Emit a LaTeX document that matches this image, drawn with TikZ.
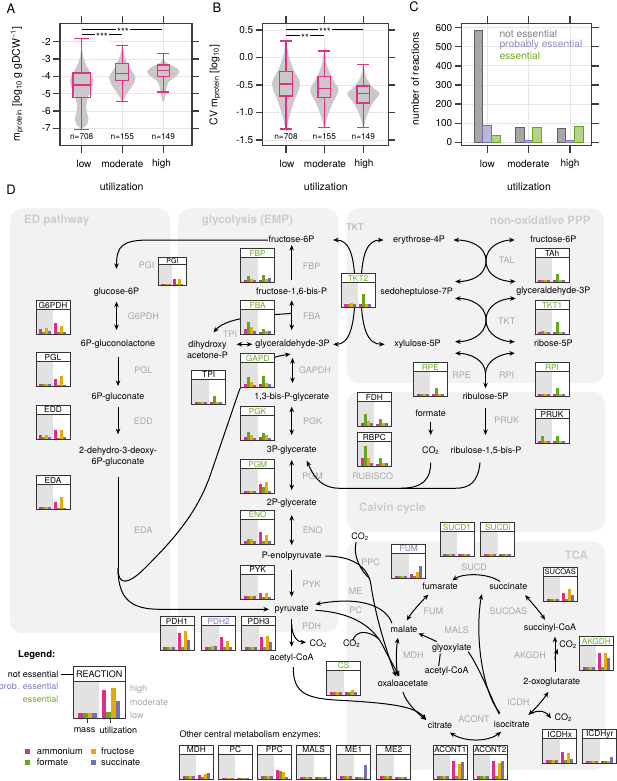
\documentclass[tikz,border=0pt]{standalone}
\usepackage{fontspec}
\setmainfont{TeX Gyre Heros}
\usetikzlibrary{arrows.meta,calc}
\definecolor{amm}{HTML}{E7298A}
\definecolor{frm}{HTML}{66A61E}
\definecolor{fru}{HTML}{E6AB02}
\definecolor{sucp}{HTML}{7570B3}
\colorlet{bar1}{amm}\colorlet{bar2}{frm}\colorlet{bar3}{fru}\colorlet{bar4}{sucp}
\definecolor{essg}{HTML}{6EAA2A}
\definecolor{probp}{HTML}{7F7BC0}
\definecolor{framec}{HTML}{3C3C3C}
\definecolor{gridc}{HTML}{E6E6E6}
\definecolor{violc}{HTML}{C9C9C9}
\definecolor{boxc}{HTML}{E0308A}
\definecolor{regc}{HTML}{F2F2F2}
\definecolor{rtc}{HTML}{CDCDCD}
\definecolor{labc}{HTML}{A8A8A8}
\definecolor{massc}{HTML}{E2E2E2}
\definecolor{boxl}{HTML}{333333}
\definecolor{negrey}{HTML}{808080}
\newcommand{\fsz}[1]{\fontsize{#1}{#1}\selectfont}
\newcommand{\enzbox}[8][1]{%
 \begin{scope}[shift={(#3,#4)}, scale=#1]
  \fill[white] (0,0) rectangle (34,34);
  \fill[massc] (0,9) rectangle (17,34);
  \foreach \h [count=\i] in {#7} {\fill[bar\i] ({0.3+3*\i},33.6) rectangle ++(3,{-\h});}
  \foreach \h [count=\i] in {#8} {\fill[bar\i] ({15.3+3*\i},33.6) rectangle ++(3,{-\h});}
  \draw[boxl, line width=0.8pt] (0,0) rectangle (34,34) (0,9) -- (34,9);
  \node[inner sep=0, font=\fsz{8.3}, text=#6, transform shape] (#2) at (17,4.9) {#5};
 \end{scope}}
\newcommand{\vcon}[5]{\draw[#1] ($(#2.center)+(0,#4)$) -- ($(#2.center |- #3.center)+(0,#5)$);}
\tikzset{
 frame/.style={draw=framec, line width=1.3pt},
 gridl/.style={draw=gridc, line width=0.8pt},
 bx/.style={draw=boxc, line width=1.3pt},
 ticklab/.style={font=\fsz{10}, inner sep=1pt},
 nlab/.style={font=\fsz{8.3}, inner sep=0},
 plab/.style={font=\fsz{13}, inner sep=0},
 axlab/.style={font=\fsz{10.5}, inner sep=0},
 sigt/.style={font=\fsz{10}, inner sep=1pt, fill=white},
 met/.style={font=\fsz{9}, inner sep=0.5pt, text height=6.5pt, text depth=1.8pt},
 met2/.style={font=\fontsize{9}{11}\selectfont, inner sep=0.5pt, align=center},
 elab/.style={font=\fsz{9}, text=labc, inner sep=0},
 rtitle/.style={font=\bfseries\fsz{11.5}, text=rtc, inner sep=0},
 arr/.style={line width=1pt, -{Stealth[length=5.5pt,width=4.6pt]}},
 dbl/.style={line width=1pt, {Stealth[length=5.5pt,width=4.6pt]}-{Stealth[length=5.5pt,width=4.6pt]}},
 plain/.style={line width=1pt},
 reg/.style={fill=regc, rounded corners=12pt},
}
\begin{document}
\begin{tikzpicture}[x=1pt,y=-1pt]
\path[use as bounding box, fill=white] (0,0) rectangle (617,781);

%================ Panel A
\node[plab] (labA) at (11,9) {A};
\foreach \yy in {41.7,59,76.3,93.7,111,128.3} \draw[gridl] (60,\yy) -- (192,\yy);
\foreach \xx in {81.7,122.3,163.3} \draw[gridl] (\xx,23.5) -- (\xx,145.5);
\begin{scope}[y=17.33pt, shift={(0pt,-7.04pt)}]
 \fill[violc] plot[smooth cycle, tension=0.6] coordinates {(81.7,-2.4) (83.5,-2.9) (86.5,-3.4) (91,-3.85) (93.5,-4.25) (91.5,-4.7) (88,-5.2) (86.3,-5.7) (87,-6.1) (88.5,-6.45) (86.5,-6.8) (81.7,-7.0) (76.9,-6.8) (74.9,-6.45) (76.4,-6.1) (77.1,-5.7) (75.4,-5.2) (71.9,-4.7) (69.9,-4.25) (72.4,-3.85) (76.9,-3.4) (79.9,-2.9)};
 \fill[violc] plot[smooth cycle, tension=0.6] coordinates {(122.3,-2.25) (124,-2.7) (127,-3.2) (132,-3.7) (135.5,-4.05) (133,-4.5) (127.5,-4.95) (124,-5.3) (122.3,-5.5) (120.6,-5.3) (117.1,-4.95) (111.6,-4.5) (109.1,-4.05) (112.6,-3.7) (117.6,-3.2) (120.6,-2.7)};
 \fill[violc] plot[smooth cycle, tension=0.6] coordinates {(163.3,-2.95) (166,-3.2) (173,-3.4) (179.5,-3.7) (176,-4.0) (169,-4.3) (166.5,-4.7) (165.5,-5.1) (163.3,-5.5) (161.1,-5.1) (160.1,-4.7) (157.6,-4.3) (150.6,-4.0) (147.1,-3.7) (153.6,-3.4) (160.6,-3.2)};
 % low
 \draw[bx] (72.9,-3.8) rectangle (90.5,-5.2) (72.9,-4.5) -- (90.5,-4.5);
 \draw[bx] (81.7,-3.8) -- (81.7,-1.8) (74.2,-1.8) -- (89.2,-1.8) (81.7,-5.2) -- (81.7,-7.05) (74.2,-7.05) -- (89.2,-7.05);
 % moderate
 \draw[bx] (115.8,-3.25) rectangle (128.8,-4.25) (115.8,-3.85) -- (128.8,-3.85);
 \draw[bx] (122.3,-3.25) -- (122.3,-2.2) (116.3,-2.2) -- (128.3,-2.2) (122.3,-4.25) -- (122.3,-5.45) (116.3,-5.45) -- (128.3,-5.45);
 % high
 \draw[bx] (157.3,-3.35) rectangle (169.3,-4.0) (157.3,-3.65) -- (169.3,-3.65);
 \draw[bx] (163.3,-3.35) -- (163.3,-2.7) (157.3,-2.7) -- (169.3,-2.7) (163.3,-4.0) -- (163.3,-4.9) (157.3,-4.9) -- (169.3,-4.9);
\end{scope}
\draw[line width=0.7pt] (81.7,29) -- (161.7,29);
\node[sigt] (sA1) at (123,31.5) {***};
\draw[line width=0.7pt] (81.7,34.5) -- (122.3,34.5);
\node[sigt] (sA2) at (102,37) {***};
\node[nlab] (nA1) at (81.7,136.7) {n=708};
\node[nlab] (nA2) at (122.3,136.7) {n=155};
\node[nlab] (nA3) at (163.3,136.7) {n=149};
\draw[frame] (60,23.5) rectangle (192,145.5);
\foreach \yy/\lab in {41.7/-2,59/-3,76.3/-4,93.7/-5,111/-6,128.3/-7} {
 \draw[frame] (60,\yy) -- (53,\yy) (192,\yy) -- (199,\yy);
 \node[ticklab, anchor=east] at (52,\yy) {\lab};}
\foreach \xx in {81.7,122.3,163.3} \draw[frame] (\xx,23.5) -- (\xx,16.5) (\xx,145.5) -- (\xx,152.5);
\node[ticklab] at (84,163.5) {low};
\node[ticklab] at (122.3,163.5) {moderate};
\node[ticklab] at (161.5,163.5) {high};
\node[axlab] at (121.7,187) {utilization};
\node[axlab, rotate=90] at (17,84) {m\textsubscript{protein} [log\textsubscript{10} g gDCW\textsuperscript{\textminus1}]};

%================ Panel B
\node[plab] (labB) at (217,8) {B};
\foreach \yy in {30,57.5,85,112.5,140} \draw[gridl] (262.7,\yy) -- (388.3,\yy);
\foreach \xx in {286,324.3,363.3} \draw[gridl] (\xx,23.5) -- (\xx,145.5);
\begin{scope}[y=55pt, shift={(0pt,-57.5pt)}]
 \fill[violc] plot[smooth cycle, tension=0.6] coordinates {(286,0.28) (288.5,0.05) (293,-0.2) (300,-0.48) (294,-0.8) (289,-1.1) (286,-1.3) (283,-1.1) (278,-0.8) (272,-0.48) (279,-0.2) (283.5,0.05)};
 \fill[violc] plot[smooth cycle, tension=0.6] coordinates {(324.3,0.12) (327,-0.15) (333,-0.4) (338.3,-0.6) (332,-0.85) (327,-1.1) (324.3,-1.27) (321.6,-1.1) (316.6,-0.85) (310.3,-0.6) (315.6,-0.4) (321.6,-0.15)};
 \fill[violc] plot[smooth cycle, tension=0.6] coordinates {(363.3,-0.12) (366,-0.35) (373,-0.55) (379.3,-0.66) (372,-0.85) (366,-1.1) (363.3,-1.27) (360.6,-1.1) (354.6,-0.85) (347.3,-0.66) (353.6,-0.55) (360.6,-0.35)};
 \draw[bx] (279.8,-0.25) rectangle (292.2,-0.7) (279.8,-0.48) -- (292.2,-0.48);
 \draw[bx] (286,-0.25) -- (286,0.3) (280,0.3) -- (292,0.3) (286,-0.7) -- (286,-1.3) (280,-1.3) -- (292,-1.3);
 \draw[bx] (318.1,-0.35) rectangle (330.5,-0.73) (318.1,-0.57) -- (330.5,-0.57);
 \draw[bx] (324.3,-0.35) -- (324.3,0.12) (318.3,0.12) -- (330.3,0.12) (324.3,-0.73) -- (324.3,-1.27) (318.3,-1.27) -- (330.3,-1.27);
 \draw[bx] (357.1,-0.52) rectangle (369.5,-0.83) (357.1,-0.65) -- (369.5,-0.65);
 \draw[bx] (363.3,-0.52) -- (363.3,-0.13) (357.3,-0.13) -- (369.3,-0.13) (363.3,-0.83) -- (363.3,-1.27) (357.3,-1.27) -- (369.3,-1.27);
\end{scope}
\draw[line width=0.7pt] (286,29.3) -- (363.3,29.3);
\node[sigt] (sB1) at (325,31.8) {***};
\draw[line width=0.7pt] (286,35.3) -- (324.3,35.3);
\node[sigt] (sB2) at (305,37.8) {**};
\node[nlab] (nB1) at (286,136.7) {n=708};
\node[nlab] (nB2) at (324.3,136.7) {n=155};
\node[nlab] (nB3) at (363.3,136.7) {n=149};
\draw[frame] (262.7,23.5) rectangle (388.3,145.5);
\foreach \yy/\lab in {30/0.5,57.5/0.0,85/-0.5,112.5/-1.0,140/-1.5} {
 \draw[frame] (262.7,\yy) -- (255.7,\yy) (388.3,\yy) -- (395.3,\yy);
 \node[ticklab, anchor=east] at (254.5,\yy) {\lab};}
\foreach \xx in {286,324.3,363.3} \draw[frame] (\xx,23.5) -- (\xx,16.5) (\xx,145.5) -- (\xx,152.5);
\node[ticklab] at (287,164) {low};
\node[ticklab] at (325,164) {moderate};
\node[ticklab] at (364,164) {high};
\node[axlab] at (325.8,187) {utilization};
\node[axlab, rotate=90] at (215,85) {CV m\textsubscript{protein} [log\textsubscript{10}]};

%================ Panel C
\node[plab] (labC) at (414,7) {C};
\foreach \yy in {142.3,123.2,104.1,85,65.9,46.8,27.7} \draw[gridl] (461.7,\yy) -- (591.7,\yy);
\foreach \xx in {487.3,528.3,570} \draw[gridl] (\xx,23.5) -- (\xx,145.5);
\tikzset{gbar/.style={fill=black!35, draw=black!62, line width=0.9pt}, pbar/.style={fill=sucp!50, draw=sucp, line width=0.9pt}, ebar/.style={fill=frm!50, draw=frm, line width=0.9pt}}
\draw[gbar] (474,142.3) rectangle (482.7,30.2);
\draw[pbar] (482.7,142.3) rectangle (491.3,125.1);
\draw[ebar] (491.3,142.3) rectangle (500,135.6);
\draw[gbar] (515.3,142.3) rectangle (524,127.6);
\draw[pbar] (524,142.3) rectangle (532.7,140.8);
\draw[ebar] (532.7,142.3) rectangle (541.3,127.0);
\draw[gbar] (557,142.3) rectangle (565.7,128.9);
\draw[pbar] (565.7,142.3) rectangle (574.3,140.8);
\draw[ebar] (574.3,142.3) rectangle (583,126.6);
\node[font=\fsz{10.3}, text=negrey, anchor=west, inner sep=0] (lgC1) at (499.3,34) {not essential};
\node[font=\fsz{10.3}, text=sucp!80, anchor=west, inner sep=0] (lgC2) at (499.3,45) {probably essential};
\node[font=\fsz{10.3}, text=essg, anchor=west, inner sep=0] (lgC3) at (499.3,56) {essential};
\draw[frame] (461.7,23.5) rectangle (591.7,145.5);
\foreach \yy/\lab in {142.3/0,123.2/100,104.1/200,85/300,65.9/400,46.8/500,27.7/600} {
 \draw[frame] (461.7,\yy) -- (454.7,\yy) (591.7,\yy) -- (598.7,\yy);
 \node[ticklab, anchor=east] at (453.5,\yy) {\lab};}
\foreach \xx in {487.3,528.3,570} \draw[frame] (\xx,23.5) -- (\xx,16.5) (\xx,145.5) -- (\xx,152.5);
\node[ticklab] at (487.3,164) {low};
\node[ticklab] at (528.3,164) {moderate};
\node[ticklab] at (570,164) {high};
\node[axlab] at (529,187) {utilization};
\node[axlab, rotate=90] at (415,79) {number of reactions};

%================ Panel D
\node[plab] (labD) at (11,190) {D};
\fill[reg] (10,208.3) rectangle (170,633);
\fill[reg] (178,208.3) rectangle (338.3,632);
\fill[reg] (346.7,208.3) rectangle (604,383);
\fill[reg] (346.7,391.7) rectangle (605,531.7);
\fill[reg] (346.7,541.7) rectangle (605,770);
\node[rtitle, anchor=west] at (24,220.7) {ED pathway};
\node[rtitle, anchor=west] at (201.7,220.7) {glycolysis (EMP)};
\node[rtitle, anchor=east] at (590.7,220.7) {non-oxidative PPP};
\node[rtitle, anchor=west] at (359,508.3) {Calvin cycle};
\node[rtitle, anchor=east] at (588,555) {TCA};

% grey reaction labels
\foreach \px/\py/\t in {146.7/265/PGI, 143.3/316.7/G6PDH, 143.3/370/PGL, 143.3/421.7/EDD, 143.3/530.7/EDA,
  311.7/266.7/FBP, 311.7/316.7/FBA, 230/334/TPI, 315/370/GAPDH, 312.7/421.7/PGK, 312.7/476/PGM, 312.7/530/ENO,
  311.7/584/PYK, 311.7/626/PDH, 355/227.3/TKT, 506.7/260/TAL, 506.7/321.7/TKT, 461.7/375/RPE, 506.7/375/RPI,
  506.7/420.7/PRUK, 372.7/476.7/RUBISCO, 370.7/562.3/PPC, 355.7/591.7/ME, 355.7/610.7/PC, 474/567.7/SUCD,
  433.3/611.7/FUM, 508.3/611.7/SUCOAS, 456.7/630.7/MALS, 413.3/655/MDH, 530/655/AKGDH, 518.3/702.7/ICDH, 474/719.3/ACONT}
  \node[elab] at (\px,\py) {\t};

% metabolites
\node[met] (g6p) at (116.5,291.7) {glucose-6P};
\node[met] (g6pl) at (118,344.3) {6P-gluconolactone};
\node[met] (pgn) at (118,397.3) {6P-gluconate};
\node[met2] (kdpg) at (118,456.2) {2-dehydro-3-deoxy-\\6P-gluconate};
\node[met] (f6p) at (291.5,240) {fructose-6P};
\node[met] (fbp) at (291.7,292.3) {fructose-1,6-bis-P};
\node[met2] (dhap) at (207.5,350) {dihydroxy\\acetone-P};
\node[met] (g3p) at (292.5,344.3) {glyceraldehyde-3P};
\node[met] (bpg) at (291.7,397.3) {1,3-bis-P-glycerate};
\node[met] (pg3) at (291.7,450) {3P-glycerate};
\node[met] (pg2) at (291.7,503.3) {2P-glycerate};
\node[met] (pep) at (291.7,556) {P-enolpyruvate};
\node[met] (pyr) at (291.7,609.3) {pyruvate};
\node[met] (co2pdh) at (318.3,644.3) {CO\textsubscript{2}};
\node[met] (accoa) at (291.7,658.3) {acetyl-CoA};
\node[met] (e4p) at (419,240) {erythrose-4P};
\node[met] (s7p) at (416.7,292.3) {sedoheptulose-7P};
\node[met] (xu5p) at (417.5,344.3) {xylulose-5P};
\node[met] (f6pb) at (553.3,240) {fructose-6P};
\node[met] (g3pb) at (553.3,290.7) {glyceraldehyde-3P};
\node[met] (r5p) at (553.3,344.3) {ribose-5P};
\node[met] (ru5p) at (485.5,396.7) {ribulose-5P};
\node[met] (rubp) at (486,450.7) {ribulose-1,5-bis-P};
\node[met] (formate) at (430.7,414.3) {formate};
\node[met] (co2cal) at (430.7,450.7) {CO\textsubscript{2}};
\node[met] (co2ppc) at (360,537.3) {CO\textsubscript{2}};
\node[met] (fum) at (440,587.3) {fumarate};
\node[met] (suc) at (508.3,587.3) {succinate};
\node[met] (mal) at (404,630) {malate};
\node[met] (succoa) at (550,628.3) {succinyl-CoA};
\node[met] (glx) at (451.7,647.7) {glyoxylate};
\node[met] (co2akg) at (568,645) {CO\textsubscript{2}};
\node[met] (accoa2) at (446.7,670.7) {acetyl-CoA};
\node[met] (oaa) at (403,684.3) {oxaloacetate};
\node[met] (akg) at (551.7,681.7) {2-oxoglutarate};
\node[met] (co2pc) at (351.7,644.3) {CO\textsubscript{2}};
\node[met] (cit) at (440,725.7) {citrate};
\node[met] (icit) at (511.7,725) {isocitrate};
\node[met] (co2icd) at (563.3,718.3) {CO\textsubscript{2}};

% ED connectors
\draw[arr] (f6p.west) -- (150,240) .. controls (122,240) and (116.5,246) .. ($(g6p.north)+(0,-18)$);
\vcon{dbl}{g6p}{g6pl}{10}{-14.3}
\vcon{arr}{g6pl}{pgn}{12.4}{-11.3}
\vcon{arr}{pgn}{kdpg}{9.7}{-22}
\draw[plain] ($(kdpg.center)+(0,21)$) -- ($(kdpg.center)+(0,112)$);
\draw[arr] ($(kdpg.center)+(0,112)$) .. controls (118,600) and (132,609.3) .. (160,609.3) -- ($(pyr.west)+(-5,0)$);
\draw[arr] ($(kdpg.center)+(0,112)$) .. controls (118,586) and (128,585) .. (145,568) .. controls (172,541) and (196,515) .. (210,476) -- (238,394) .. controls (246,370) and (262,358) .. ($(g3p.south)+(-2,5)$);
% glycolysis connectors
\vcon{arr}{fbp}{f6p}{-12.3}{5}
\vcon{dbl}{fbp}{g3p}{8}{-14.3}
\draw[arr] ($(fbp.center)+(0,21)$) .. controls (278,315) and (228,315) .. ($(dhap.north)+(6,-8)$);
\draw[dbl] ($(dhap.east |- g3p.west)+(8,0)$) -- ($(g3p.west)+(-2.5,0)$);
\vcon{dbl}{g3p}{bpg}{13.7}{-14.3}
\vcon{dbl}{bpg}{pg3}{9.4}{-15}
\vcon{dbl}{pg3}{pg2}{10}{-13.3}
\vcon{dbl}{pg2}{pep}{11.7}{-11}
\vcon{arr}{pep}{pyr}{14}{-12.6}
\vcon{arr}{pyr}{accoa}{9.7}{-11.6}
\draw[arr] ($(pyr.center)+(0,15)$) .. controls (292,636) and (297,642) .. ($(co2pdh.west)+(-3,-2)$);
% TKT (left X)
\coordinate (tktc) at (358,290);
\draw[arr] ($(tktc)+(-3,0)$) .. controls (355,252) and (348,240) .. ($(f6p.east)+(18,0)$);
\draw[arr] ($(tktc)+(3,0)$) .. controls (361,252) and (368,240) .. ($(e4p.west)+(-9,0)$);
\draw[arr] ($(tktc)+(-3,0)$) .. controls (355,330) and (348,344.3) .. ($(g3p.east)+(3,0)$);
\draw[arr] ($(tktc)+(3,0)$) .. controls (361,330) and (368,344.3) .. ($(xu5p.west)+(-9,0)$);
% TAL
\coordinate (talc) at (486,261);
\draw[arr] (talc) .. controls (486,246) and (470,240) .. ($(e4p.east)+(8,0)$);
\draw[arr] (talc) .. controls (486,246) and (502,240) .. ($(f6pb.west)+(-15,0)$);
\draw[arr] (talc) .. controls (486,276) and (470,281.7) .. ($(s7p.north east)+(1.5,-6)$);
\draw[arr] (talc) .. controls (486,276) and (502,281.7) .. ($(g3pb.north west)+(0,-4.5)$);
% TKT (right X)
\coordinate (tktd) at (486,320);
\draw[arr] (tktd) .. controls (486,305) and (470,298.3) .. ($(s7p.south east)+(1.5,1.3)$);
\draw[arr] (tktd) .. controls (486,305) and (502,298.3) .. ($(g3pb.south west)+(0,3)$);
\draw[arr] (tktd) .. controls (486,335) and (470,341.7) .. ($(xu5p.east)+(13.7,-2.6)$);
\draw[arr] (tktd) .. controls (486,335) and (502,341.7) .. ($(r5p.west)+(-18.5,-2.6)$);
% RPE / RPI
\coordinate (rpc) at (485.5,374);
\draw[arr] (rpc) .. controls (485.5,360) and (470,353.3) .. ($(xu5p.east)+(13.7,9)$);
\draw[arr] (rpc) .. controls (485.5,360) and (502,353.3) .. ($(r5p.west)+(-18.5,9)$);
\draw[arr] (rpc) -- ($(ru5p.center)+(0,-8.4)$);
\vcon{arr}{ru5p}{rubp}{11.6}{-15.7}
\vcon{arr}{formate}{co2cal}{7.4}{-15.7}
% RUBISCO
\coordinate (rub) at (400,488.3);
\draw[plain] ($(co2cal.center)+(0,12)$) .. controls (430.7,479) and (423,488.3) .. (rub);
\draw[plain] ($(rubp.center)+(-6,12)$) .. controls (478,482) and (470,488.3) .. (455,488.3) -- (rub);
\draw[arr] (rub) -- (340,488.3) .. controls (318,488.3) and (312,472) .. ($(pg3.south)+(15,6)$);
% PPC, PC, ME, MDH
\draw[arr] ($(pep.east)+(3,0)$) .. controls (350,556) and (368,565) .. (371,585) .. controls (376,620) and (388,655) .. ($(oaa.north)+(-7,-3)$);
\draw[plain] ($(co2ppc.south)+(-4,0)$) .. controls (353,556) and (360,570) .. (370,579);
\draw[arr] ($(pyr.east)+(6,1)$) .. controls (345,612) and (372,622) .. (384,648) .. controls (390,660) and (395,668) .. ($(oaa.north)+(-3.5,-3)$);
\draw[plain] ($(co2pc.north)+(1,1)$) .. controls (356,630) and (368,630) .. (379,639);
\draw[arr] ($(mal.north west)+(2,-2)$) .. controls (386,606) and (360,596) .. ($(pyr.east)+(6,-5)$);
\draw[dbl] ($(mal.south)+(-6,3)$) .. controls (396,650) and (396,665) .. ($(oaa.north)+(-5,-3)$);
% TCA
\draw[dbl] ($(fum.south)+(-11.7,2.5)$) .. controls (420,603) and (412,612) .. ($(mal.north)+(2.7,-4.7)$);
\draw[arr] ($(suc.north west)+(11.2,-1)$) .. controls (488,573) and (463,573) .. ($(fum.north east)+(-6,-2)$);
\draw[dbl] ($(suc.south east)+(-2.8,3)$) .. controls (532,603) and (540,612) .. ($(succoa.north)+(-5,-3.6)$);
\draw[arr] ($(akg.center)+(3.3,-10)$) -- ($(akg.center |- succoa.center)+(3.3,8.4)$);
\draw[arr] ($(akg.center)+(3.3,-22)$) .. controls (555,654) and (557,651) .. ($(co2akg.west)+(-1,4)$);
\draw[dbl] ($(icit.east)+(-2,-10)$) .. controls (536,708) and (543,700) .. ($(akg.south)+(-3.4,5.3)$);
\draw[arr] ($(icit.east)+(2,-12)$) .. controls (540,709) and (546,712) .. ($(co2icd.west)+(-3,0)$);
\draw[dbl] ($(cit.south east)+(-3,2)$) .. controls (465,742) and (488,742) .. ($(icit.south west)+(8,2)$);
\draw[arr] ($(oaa.south)+(0,3)$) .. controls (406,702) and (416,712) .. ($(cit.north west)+(-1,-1)$);
\draw[arr] ($(accoa.south)+(1.6,4)$) .. controls (293,692) and (305,698) .. (335,700) .. controls (390,703) and (415,706) .. ($(cit.north west)+(-1,-1)$);
\draw[arr] ($(icit.north)+(-11.7,-7)$) .. controls (484,695) and (474,640) .. ($(suc.south west)+(-7,2)$);
\draw[plain] ($(icit.north)+(-12.5,-6)$) .. controls (490,695) and (478,665) .. ($(glx.east)+(-4,4)$);
\draw[arr] ($(glx.north west)+(5.5,-1.3)$) -- ($(mal.east)+(0.3,3.3)$);
\draw[plain] ($(accoa2.north)+(-8,0)$) -- ($(glx.south west)+(9,1)$);

% enzyme boxes
\enzbox[0.83]{pgi}{158.3}{257.3}{PGI}{black}{2,2,2,1.5}{7,1,8,1.5}
\enzbox{g6pdh}{36}{300.7}{G6PDH}{black}{5,2,6,3}{11,2,8,2}
\enzbox{pgl}{36}{352.7}{PGL}{black}{2,2,2,2}{7,1,10,1.5}
\enzbox{edd}{36}{405}{EDD}{black}{4,2,4,2}{9,1,9,1.5}
\enzbox{eda}{36}{475.7}{EDA}{black}{2,2,2,2}{7,1,12,1.5}
\enzbox{fbpb}{240.7}{248.3}{FBP}{essg}{2,6,3,2}{2,7,3,4}
\enzbox{fba}{240.7}{300.7}{FBA}{essg}{5,12,7,3}{2,5,3,3}
\enzbox{tkt2}{341}{273.3}{TKT2}{essg}{3,3,4,3}{3,13,3,3}
\enzbox{gapd}{240.7}{353.3}{GAPD}{essg}{3,10,5,2}{3,11,4,3}
\enzbox{tpi}{191.7}{370}{TPI}{black}{2,2,2,2}{2,8,2,2}
\enzbox{pgk}{240.7}{406.7}{PGK}{essg}{3,8,5,2}{3,7,5,2}
\enzbox{pgm}{240.7}{459.3}{PGM}{essg}{2,2,2,2}{9,6,11,2}
\enzbox{eno}{240.7}{510}{ENO}{essg}{3,5,5,3}{12,3,9,3}
\enzbox{pyk}{240.7}{565}{PYK}{black}{3,3,3,3}{6,2,6,2}
\enzbox{pdh1}{160}{616.7}{PDH1}{black}{3,3,3,3}{17,3,19,10}
\enzbox{pdh2}{201.7}{616.7}{PDH2}{probp}{3,3,4,4}{13,3,9,3}
\enzbox{pdh3}{241.7}{616.7}{PDH3}{black}{3,3,3,3}{13,3,14,8}
\enzbox{cs}{326.7}{661}{CS}{essg}{3,3,3,3}{3,3,5,3}
\enzbox{fdh}{357.3}{392.3}{FDH}{black}{3,12,5,3}{2,7,3,3}
\enzbox{rbpc}{357.3}{432.3}{RBPC}{black}{8,20,8,3}{2,8,3,3}
\enzbox{rpe}{413.3}{362.7}{RPE}{essg}{2,2,2,2}{2,8,2,2}
\enzbox{rpi}{535}{362.7}{RPI}{essg}{2,2,2,2}{2,8,2,2}
\enzbox{tah}{535}{248.3}{TAh}{black}{1.5,1.5,1.5,1.5}{1.5,8,1.5,1.5}
\enzbox{tkt1}{535}{300.7}{TKT1}{essg}{2,3,2,2}{2,12,2,2}
\enzbox{pruk}{535}{409.3}{PRUK}{black}{2,7,2,2}{2,7,2,2}
\enzbox{sucd1}{440}{522.7}{SUCD1}{essg}{2,2,2,2}{2,2,2,2}
\enzbox{sucdi}{480.7}{522.7}{SUCDi}{essg}{2,2,2,2}{2,2,2,2}
\enzbox{fumb}{391.7}{544}{FUM}{probp}{2,2,2,2}{4,2,6,12}
\enzbox{sucoas}{543.3}{567.3}{\fsz{7.5}SUCOAS}{black}{2,2,2,2}{8,2,12,6}
\enzbox{akgdh}{579.3}{636.7}{AKGDH}{essg}{3,3,3,3}{17,3,17,12}
\enzbox{icdhx}{542.7}{729.3}{ICDHx}{black}{3,3,3,3}{11,3,10,4}
\enzbox{icdhyr}{582.7}{729.3}{ICDHyr}{black}{2,2,2,2}{2,2,2,6}
\enzbox{acont1}{433.3}{745}{\fsz{7.9}ACONT1}{black}{3,3,3,3}{18,3,15,17}
\enzbox{acont2}{473.3}{745}{\fsz{7.9}ACONT2}{black}{3,3,3,3}{18,3,16,18}
\enzbox{mdh}{179.3}{745}{MDH}{black}{3,3,3,3}{4,2,5,6}
\enzbox{pc}{218.3}{745}{PC}{black}{1,1,1,1}{1,1,1,1}
\enzbox{ppc}{257.3}{745}{PPC}{black}{3,3,3,3}{9,8,7,2}
\enzbox{mals}{296.7}{745}{MALS}{black}{1.5,1.5,1.5,1.5}{1.5,1.5,1.5,1.5}
\enzbox{me1}{336.7}{745}{ME1}{black}{3,3,3,3}{1.5,1.5,1.5,14}
\enzbox{me2}{376.7}{745}{ME2}{black}{3,3,3,3}{2,2,2,2}
\node[font=\fsz{9}, anchor=west, inner sep=0] (other) at (179.3,735) {Other central metabolism enzymes:};

% legend
\node[font=\bfseries\fsz{9.5}, anchor=west, inner sep=0] (leg) at (18,655) {Legend:};
\fill[white] (73.3,666) rectangle (125,718.3);
\fill[massc] (73.3,681.7) rectangle (99.2,718.3);
\foreach \i in {1,2,3,4} \fill[bar\i] ({73.7+4.6*\i},717.7) rectangle ++(4.6,-5);
\fill[bar1] (101.7,717.7) rectangle ++(4.6,-28);
\fill[bar2] (106.3,717.7) rectangle ++(4.6,-6);
\fill[bar3] (110.9,717.7) rectangle ++(4.6,-30);
\fill[bar4] (115.5,717.7) rectangle ++(4.6,-17);
\draw[boxl, line width=1pt] (73.3,666) rectangle (125,718.3) (73.3,681.7) -- (125,681.7);
\node[font=\fsz{9}, inner sep=0] (rhead) at (99.2,674) {REACTION};
\coordinate (rboxw) at (73.3,674.7);
\draw[boxl, line width=1pt] (87.3,718.3) -- (87.3,723) (110.9,718.3) -- (110.9,723);
\node[font=\fsz{9}, inner sep=0] at (84.5,730.5) {mass};
\node[font=\fsz{9}, inner sep=0] at (118.3,730.5) {utilization};
\node[font=\fsz{9}, anchor=east, inner sep=0] (ne) at (58.5,674.7) {not essential};
\draw[line width=0.8pt] ($(ne.east)+(2,0)$) -- (rboxw);
\node[font=\fsz{9}, anchor=east, inner sep=0, text=probp] at (58.5,687) {prob. essential};
\node[font=\fsz{9}, anchor=east, inner sep=0, text=essg] at (58.5,699) {essential};
\node[font=\fsz{9}, anchor=west, inner sep=0, text=labc] at (130,688.7) {high};
\node[font=\fsz{9}, anchor=west, inner sep=0, text=labc] at (130,702.7) {moderate};
\node[font=\fsz{9}, anchor=west, inner sep=0, text=labc] at (130,715) {low};
\fill[amm] (25,748.5) rectangle ++(5,5);
\fill[frm] (25,760) rectangle ++(5,5);
\fill[fru] (90.5,748.5) rectangle ++(5,5);
\fill[sucp] (90.5,760) rectangle ++(5,5);
\node[font=\fsz{9.3}, anchor=west, inner sep=0] at (36.7,751) {ammonium};
\node[font=\fsz{9.3}, anchor=west, inner sep=0] at (36.7,762.5) {formate};
\node[font=\fsz{9.3}, anchor=west, inner sep=0] at (101,751) {fructose};
\node[font=\fsz{9.3}, anchor=west, inner sep=0] at (101,762.5) {succinate};
\end{tikzpicture}
\end{document}
